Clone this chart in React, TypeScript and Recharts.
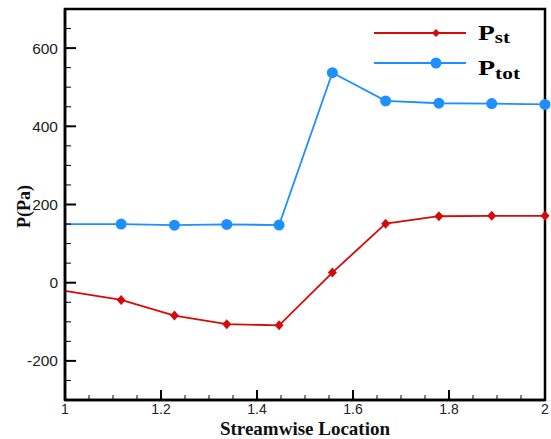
import React from "react";
import { LineChart, Line, XAxis, YAxis, ReferenceArea } from "recharts";

// streamwise stations and pressures
const xLoc = [1, 1.117, 1.228, 1.337, 1.446, 1.557, 1.668, 1.779, 1.889, 2];
const pStatic = [-21, -44, -84, -106, -109, 26, 151, 170, 171, 171];
const pTotal = [150, 150, 147, 149, 147.5, 537, 465, 459, 458, 456];

const xTicks = [
  1, 1.05, 1.1, 1.15, 1.2, 1.25, 1.3, 1.35, 1.4, 1.45, 1.5, 1.55, 1.6, 1.65, 1.7, 1.75, 1.8,
  1.85, 1.9, 1.95, 2,
];
const xLabels = [1, 1.2, 1.4, 1.6, 1.8, 2];
const yTicks = [
  -300, -250, -200, -150, -100, -50, 0, 50, 100, 150, 200, 250, 300, 350, 400, 450, 500, 550,
  600, 650, 700,
];
const yLabels = [-200, 0, 200, 400, 600];

const RED = "#d40b0b";
const BLUE = "#1e8fff";
const SANS = "'Liberation Sans', Arial, sans-serif";
const SERIF = "'Liberation Serif', 'Times New Roman', serif";

const W = 551;
const H = 439;
const margin = { top: 9, right: 6, bottom: 9, left: 7 };
const Y_AXIS_W = 58;
const X_AXIS_H = 30;
const PLOT_LEFT = margin.left + Y_AXIS_W;
const PLOT_BOTTOM = H - margin.bottom - X_AXIS_H;

const data = xLoc.map((x, i) => ({ x, pst: pStatic[i], ptot: pTotal[i] }));

const near = (list: number[], v: number) => list.some((t) => Math.abs(t - v) < 1e-6);

const XTick = (props: any) => {
  const { x, payload } = props;
  const major = near(xLabels, payload.value);
  return (
    <g>
      <line
        x1={x}
        x2={x}
        y1={PLOT_BOTTOM}
        y2={PLOT_BOTTOM - (major ? 10 : 5)}
        stroke="#000"
        strokeWidth={major ? 2 : 1}
      />
      {major && (
        <text
          x={x}
          y={PLOT_BOTTOM + 14}
          textAnchor="middle"
          fontFamily={SANS}
          fontSize={14}
          fill="#222"
        >
          {payload.value}
        </text>
      )}
    </g>
  );
};

const YTick = (props: any) => {
  const { y, payload } = props;
  const major = near(yLabels, payload.value);
  return (
    <g>
      <line
        x1={PLOT_LEFT}
        x2={PLOT_LEFT + (major ? 11 : 6)}
        y1={y}
        y2={y}
        stroke="#000"
        strokeWidth={major ? 2 : 1}
      />
      {major && (
        <text
          x={PLOT_LEFT - 7}
          y={y}
          dy="0.36em"
          textAnchor="end"
          fontFamily={SANS}
          fontSize={15.5}
          fill="#222"
        >
          {payload.value}
        </text>
      )}
    </g>
  );
};

// the first station sits on the left frame and shows no marker
const Diamond = (props: any) => {
  const { cx, cy, index } = props;
  if (cx == null || cy == null || index === 0) return <g key={index} />;
  return (
    <path
      key={index}
      d={`M${cx},${cy - 5} L${cx + 4.5},${cy} L${cx},${cy + 5} L${cx - 4.5},${cy} Z`}
      fill={RED}
    />
  );
};

const Circle = (props: any) => {
  const { cx, cy, index } = props;
  if (cx == null || cy == null || index === 0) return <g key={index} />;
  return <circle key={index} cx={cx} cy={cy} r={5.5} fill={BLUE} />;
};

const Legend = () => (
  <svg
    width={W}
    height={H}
    style={{ position: "absolute", left: 0, top: 0, pointerEvents: "none" }}
  >
    <line x1={374} x2={466} y1={33} y2={33} stroke={RED} strokeWidth={1.8} />
    <path d="M436,29 L440,33 L436,37 L432,33 Z" fill={RED} />
    <text
      x={478}
      y={40}
      fontFamily={SERIF}
      fontWeight="bold"
      fontSize={21}
      textLength={32}
      lengthAdjust="spacingAndGlyphs"
    >
      P<tspan fontSize={16} dy={3}>st</tspan>
    </text>
    <line x1={374} x2={466} y1={63} y2={63} stroke={BLUE} strokeWidth={1.8} />
    <circle cx={436} cy={63} r={5.5} fill={BLUE} />
    <text
      x={478}
      y={75}
      fontFamily={SERIF}
      fontWeight="bold"
      fontSize={21}
      textLength={42}
      lengthAdjust="spacingAndGlyphs"
    >
      P<tspan fontSize={16} dy={4}>tot</tspan>
    </text>
  </svg>
);

export default function App() {
  return (
    <div
      style={{ position: "absolute", left: 0, top: 0, width: W, height: H, background: "#fff" }}
    >
      <LineChart width={W} height={H} data={data} margin={margin}>
        <XAxis
          type="number"
          dataKey="x"
          domain={[1, 2]}
          ticks={xTicks}
          interval={0}
          height={X_AXIS_H}
          tickLine={false}
          tick={XTick}
          axisLine={{ stroke: "#000", strokeWidth: 2.5 }}
          label={(p: any) => {
            const vb = p.viewBox;
            return (
              <text
                x={vb.x + vb.width / 2}
                y={vb.y + 35}
                textAnchor="middle"
                fontFamily={SERIF}
                fontWeight="bold"
                fontSize={19}
                fill="#111"
              >
                Streamwise Location
              </text>
            );
          }}
        />
        <YAxis
          type="number"
          domain={[-300, 700]}
          ticks={yTicks}
          interval={0}
          width={Y_AXIS_W}
          tickLine={false}
          tick={YTick}
          axisLine={{ stroke: "#000", strokeWidth: 2.5 }}
          label={(p: any) => {
            const vb = p.viewBox;
            const cx = vb.x + 23;
            const cy = vb.y + vb.height / 2 + 2;
            return (
              <text
                x={cx}
                y={cy}
                transform={`rotate(-90 ${cx} ${cy})`}
                textAnchor="middle"
                fontFamily={SERIF}
                fontWeight="bold"
                fontSize={18}
                fill="#111"
              >
                P(Pa)
              </text>
            );
          }}
        />
        <Line
          type="linear"
          dataKey="pst"
          stroke={RED}
          strokeWidth={1.8}
          dot={Diamond}
          activeDot={false}
          isAnimationActive={false}
        />
        <Line
          type="linear"
          dataKey="ptot"
          stroke={BLUE}
          strokeWidth={1.8}
          dot={Circle}
          activeDot={false}
          isAnimationActive={false}
        />
        <ReferenceArea
          x1={1}
          x2={2}
          y1={-300}
          y2={700}
          fill="none"
          stroke="#000"
          strokeWidth={2.5}
          ifOverflow="visible"
        />
      </LineChart>
      <Legend />
    </div>
  );
}
